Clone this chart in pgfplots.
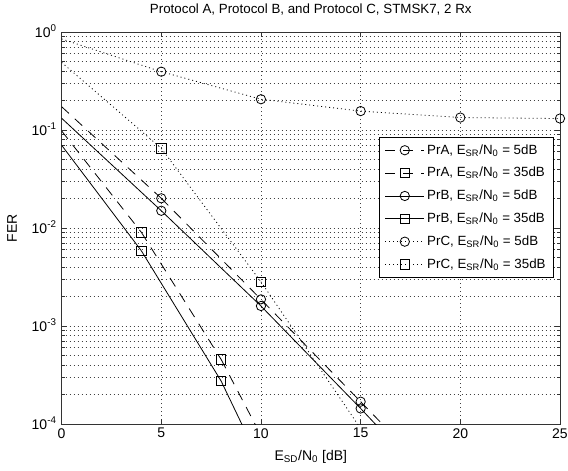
\documentclass[border=0pt]{standalone}
\usepackage{fontspec}
\setmainfont{Liberation Sans}
\usepackage{pgfplots}
\pgfplotsset{compat=1.18}
\begin{document}
\fontsize{10}{12}\selectfont
\begin{tikzpicture}
\begin{axis}[
  scale only axis, width=373.8pt, height=294pt,
  ymode=log, xmin=0, xmax=25, ymin=1e-4, ymax=1,
  xtick={0,5,10,15,20,25}, xticklabels={0,5,10,15,20,25},
  ytick={1e-4,1e-3,1e-2,1e-1,1},
  yticklabels={10\textsuperscript{-4},10\textsuperscript{-3},10\textsuperscript{-2},10\textsuperscript{-1},10\textsuperscript{0}},
  minor ytick={2e-4,3e-4,4e-4,5e-4,6e-4,7e-4,8e-4,9e-4,2e-3,3e-3,4e-3,5e-3,6e-3,7e-3,8e-3,9e-3,2e-2,3e-2,4e-2,5e-2,6e-2,7e-2,8e-2,9e-2,2e-1,3e-1,4e-1,5e-1,6e-1,7e-1,8e-1,9e-1},
  xmajorgrids=true, ymajorgrids=true, yminorgrids=true,
  grid style={black!75, line width=0.5pt, dash pattern=on 0.75pt off 2.25pt},
  minor grid style={black!75, line width=0.5pt, dash pattern=on 0.75pt off 2.25pt},
  axis line style={black!80, line width=0.6pt},
  tick style={black!80, line width=0.6pt},
  major tick length=4pt, minor tick length=2.25pt,
  tick align=inside,
  tick label style={font=\fontsize{10.5}{12}\selectfont},
  xticklabel style={inner sep=0pt, anchor=north, yshift=-3pt},
  yticklabel style={inner sep=0pt, anchor=base east, xshift=-3.5pt, yshift=-3.8pt},
  title={Protocol A, Protocol B, and Protocol C, STMSK7, 2 Rx},
  title style={at={(axis description cs:0.5,1)}, anchor=base, yshift=8.25pt, inner sep=0pt, font=\fontsize{10}{12}\selectfont},
  xlabel={E\textsubscript{SD}/N\textsubscript{0} [dB]},
  every axis x label/.style={at={(axis description cs:0.5,0)}, anchor=base, yshift=-27pt, inner sep=0pt, font=\fontsize{10.5}{12}\selectfont},
  ylabel={FER},
  every axis y label/.style={at={(axis description cs:0,0.5)}, xshift=-37.2pt, rotate=90, anchor=center, inner sep=0pt, font=\fontsize{10.5}{12}\selectfont},
  legend image code/.code={\draw[mark repeat=2,mark phase=2] plot coordinates {(0pt,0pt) (14.5pt,0pt) (29pt,0pt)};},
  legend style={at={(0.988,0.733)}, anchor=north east, draw=black, line width=0.6pt, fill=white, font=\fontsize{10}{12}\selectfont, row sep=4.4pt, inner xsep=4pt, inner ysep=3.5pt},
  legend cell align=left,
  every axis plot/.append style={black, line width=0.6pt, mark size=3.5pt, mark options={solid, line width=0.6pt}},
]
% PrA 5 dB (dashed, circles)
\addplot[dash pattern=on 7.5pt off 6pt, mark=o] coordinates {(5,0.0201) (10,1.87e-3) (15,1.69e-4)};
\addlegendentry{PrA, E\textsubscript{SR}/N\textsubscript{0} = 5dB}
% PrA 35 dB (dashed, squares)
\addplot[dash pattern=on 7.5pt off 6pt, mark=square] coordinates {(4,9.04e-3) (8,4.57e-4)};
\addlegendentry{PrA, E\textsubscript{SR}/N\textsubscript{0} = 35dB}
% PrB 5 dB (solid, circles)
\addplot[solid, mark=o] coordinates {(5,0.0150) (10,1.60e-3) (15,1.44e-4)};
\addlegendentry{PrB, E\textsubscript{SR}/N\textsubscript{0} = 5dB}
% PrB 35 dB (solid, squares)
\addplot[solid, mark=square] coordinates {(4,5.86e-3) (8,2.75e-4)};
\addlegendentry{PrB, E\textsubscript{SR}/N\textsubscript{0} = 35dB}
% PrC 5 dB (dotted, circles)
\addplot[dash pattern=on 0.75pt off 2.25pt, mark=o] coordinates {(5,0.394) (10,0.206) (15,0.156) (20,0.134) (25,0.131)};
\addlegendentry{PrC, E\textsubscript{SR}/N\textsubscript{0} = 5dB}
% PrC 35 dB (dotted, squares)
\addplot[dash pattern=on 0.75pt off 2.25pt, mark=square] coordinates {(5,0.065) (10,2.83e-3)};
\addlegendentry{PrC, E\textsubscript{SR}/N\textsubscript{0} = 35dB}
% line extensions beyond the marked points
\addplot[forget plot, dash pattern=on 7.5pt off 6pt, mark=none] coordinates {(0,0.173) (5,0.0201)};
\addplot[forget plot, dash pattern=on 7.5pt off 6pt, mark=none] coordinates {(15,1.69e-4) (20,1.5e-5)};
\addplot[forget plot, dash pattern=on 7.5pt off 6pt, mark=none] coordinates {(0,0.098) (4,9.04e-3)};
\addplot[forget plot, dash pattern=on 7.5pt off 6pt, mark=none] coordinates {(8,4.57e-4) (10,7.65e-5)};
\addplot[forget plot, solid, mark=none] coordinates {(0,0.132) (5,0.0150)};
\addplot[forget plot, solid, mark=none] coordinates {(15,1.44e-4) (20,1.2e-5)};
\addplot[forget plot, solid, mark=none] coordinates {(0,0.070) (4,5.86e-3)};
\addplot[forget plot, solid, mark=none] coordinates {(8,2.75e-4) (10,3.9e-5)};
\addplot[forget plot, dash pattern=on 0.75pt off 2.25pt, mark=none] coordinates {(0,0.85) (5,0.394)};
\addplot[forget plot, dash pattern=on 0.75pt off 2.25pt, mark=none] coordinates {(0,0.49) (5,0.065)};
\addplot[forget plot, dash pattern=on 0.75pt off 2.25pt, mark=none] coordinates {(10,2.83e-3) (15,9e-5)};
\end{axis}
\pgfresetboundingbox
\path[use as bounding box] (-46.2pt,-35.25pt) rectangle (379.8pt,318pt);
\end{tikzpicture}
\end{document}
